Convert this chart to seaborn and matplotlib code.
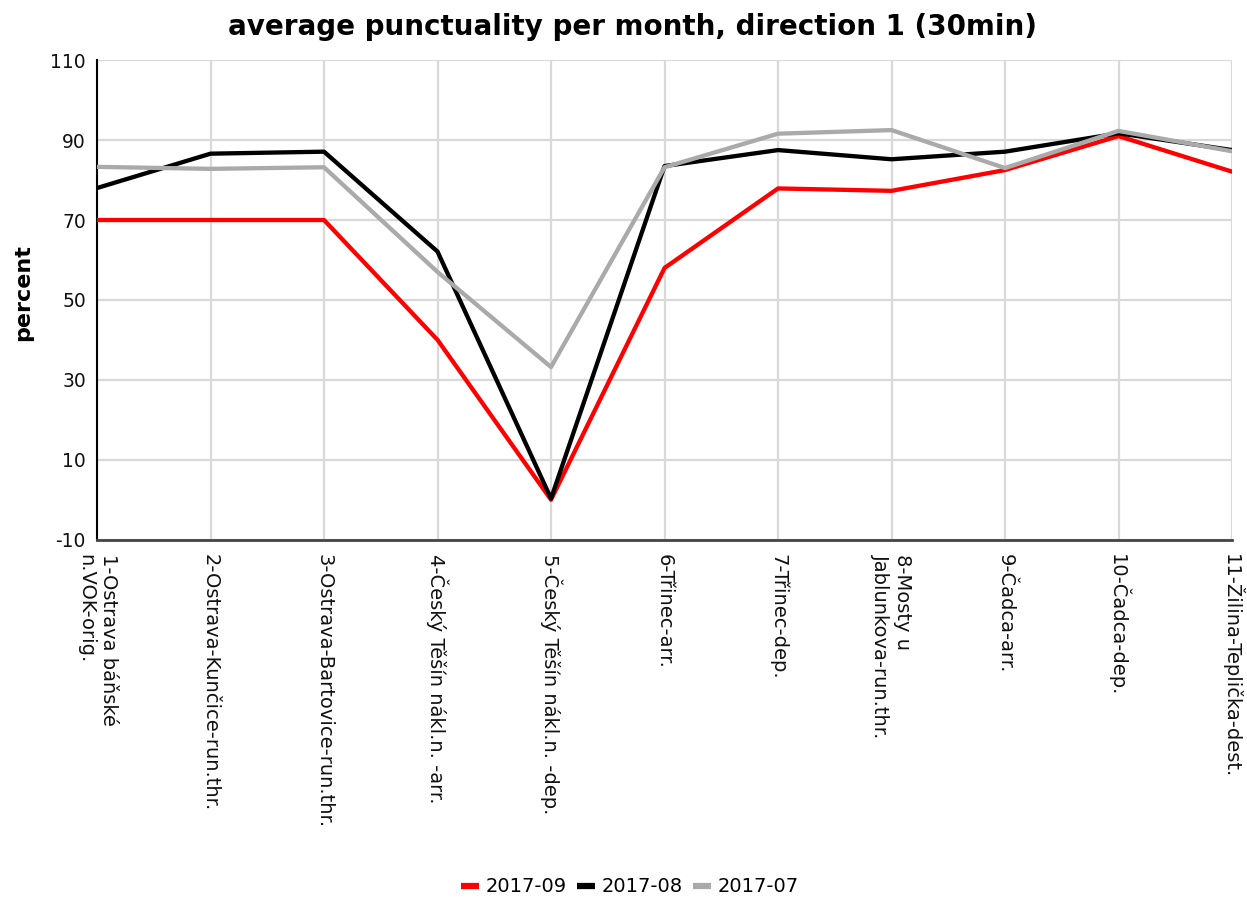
import matplotlib
matplotlib.use("Agg")
import matplotlib.pyplot as plt
import seaborn as sns
import pandas as pd

categories = [
    "1-Ostrava báňské\nn.VOK-orig.",
    "2-Ostrava-Kunčice-run.thr.",
    "3-Ostrava-Bartovice-run.thr.",
    "4-Český Těšín nákl.n. -arr.",
    "5-Český Těšín nákl.n. -dep.",
    "6-Třinec-arr.",
    "7-Třinec-dep.",
    "8-Mosty u\nJablunkova-run.thr.",
    "9-Čadca-arr.",
    "10-Čadca-dep.",
    "11-Žilina-Teplička-dest.",
]
series_names = ["2017-09", "2017-08", "2017-07"]
values_2017_09 = [70, 70, 70, 40, 0, 58, 77.9, 77.3, 82.5, 91, 82.1]
values_2017_08 = [78, 86.6, 87.1, 62.1, 0.3, 83.5, 87.5, 85.2, 87.1, 91.7, 87.5]
values_2017_07 = [83.3, 82.8, 83.2, 57, 33.2, 83.2, 91.6, 92.5, 83, 92.3, 87.2]
yticks = [-10, 10, 30, 50, 70, 90, 110]

colors = {"2017-09": "#ff0000", "2017-08": "#000000", "2017-07": "#aaaaaa"}

rows = []
for name, vals in zip(series_names, [values_2017_09, values_2017_08, values_2017_07]):
    for i, v in enumerate(vals):
        rows.append({"pos": i, "value": v, "series": name})
df = pd.DataFrame(rows)

sns.set_style("white")
plt.rcParams["font.family"] = ["DejaVu Sans"]
plt.rcParams["axes.unicode_minus"] = False
plt.rcParams["text.color"] = "#000000"
plt.rcParams["axes.labelcolor"] = "#000000"
plt.rcParams["xtick.color"] = "#111111"
plt.rcParams["ytick.color"] = "#111111"

fig = plt.figure(figsize=(12.47, 8.98), dpi=100)
ax = fig.add_axes([0.0778, 0.399, 0.9102, 0.534])

sns.lineplot(data=df, x="pos", y="value", hue="series", hue_order=series_names,
             palette=colors, linewidth=3.1, ax=ax, legend=True, zorder=3)

ax.set_xlim(0, len(categories) - 1)
ax.set_ylim(-10, 110)
ax.set_yticks(yticks)
ax.set_xticks(range(len(categories)))
ax.set_xticklabels(categories, rotation=270, ha="center", va="top",
                   multialignment="left", fontsize=14)
ax.tick_params(axis="y", labelsize=13.5, length=3, color="#d9d9d9", width=1.5, pad=5)
ax.tick_params(axis="x", length=0, pad=10)
ax.grid(True, color="#d9d9d9", linewidth=1.6, zorder=0)
ax.set_axisbelow(True)

for s in ["top", "right"]:
    ax.spines[s].set_visible(False)
ax.spines["left"].set_color("#000000")
ax.spines["left"].set_linewidth(1.5)
ax.spines["bottom"].set_color("#444444")
ax.spines["bottom"].set_linewidth(2)

ax.set_xlabel("")
ax.set_ylabel("percent", fontsize=16, fontweight="bold")
ax.yaxis.set_label_coords(-64 / 1135, 0.515)
fig.text(632 / 1247, 1 - 35 / 898, "average punctuality per month, direction 1 (30min)",
         fontsize=20, fontweight="bold", ha="center", va="baseline")

handles, labels = ax.get_legend_handles_labels()
leg = ax.legend(handles, labels, loc="center", bbox_to_anchor=(630 / 1247, 1 - 887 / 898),
                bbox_transform=fig.transFigure, ncol=3, frameon=False,
                fontsize=14, handlelength=0.9, handletextpad=0.35,
                columnspacing=0.55, borderpad=0.1)
for h in leg.get_lines():
    h.set_linewidth(4.5)
    h.set_solid_capstyle("butt")

fig.savefig("out.png", dpi=100, facecolor="white")
